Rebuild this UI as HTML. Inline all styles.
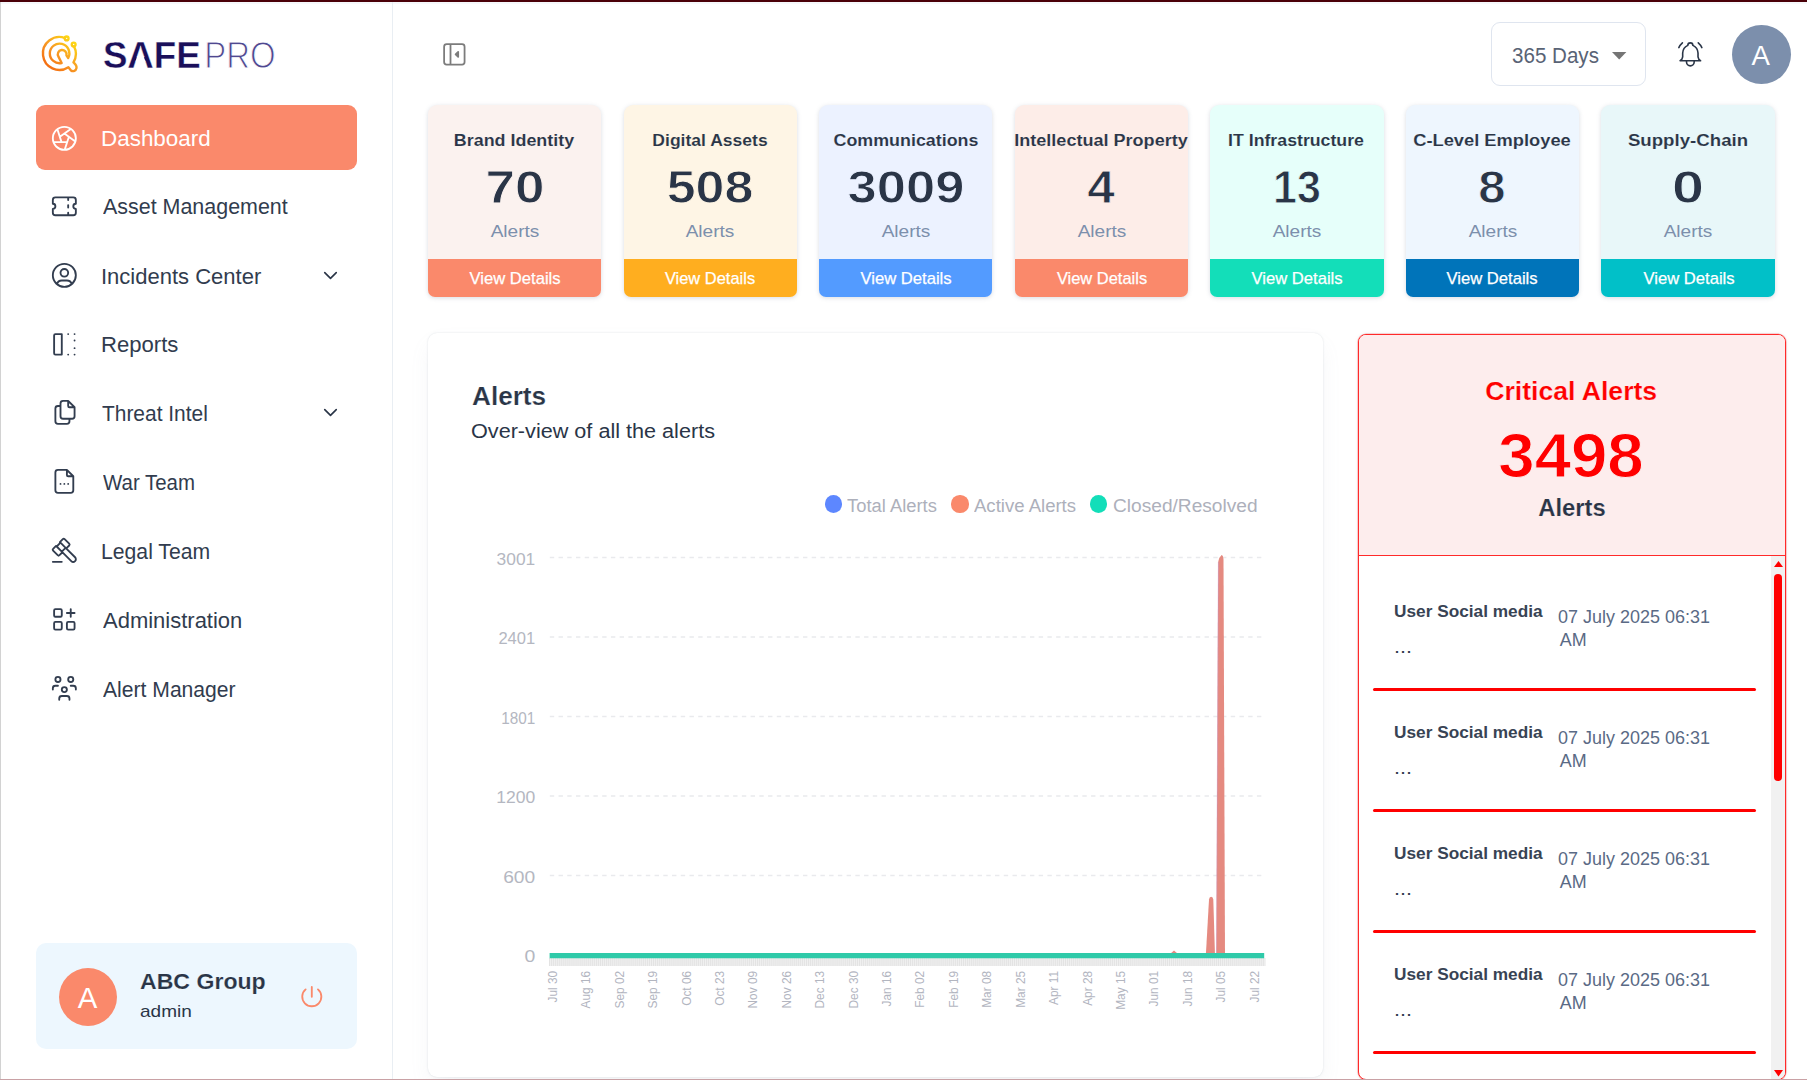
<!DOCTYPE html>
<html lang="en">
<head>
<meta charset="utf-8">
<title>SafePro Dashboard</title>
<style>
*{box-sizing:border-box;margin:0;padding:0}
html,body{width:1807px;height:1080px;overflow:hidden;background:#fff}
body{position:relative;font-family:"Liberation Sans",sans-serif;color:#2a3547}
.abs{position:absolute}
.t{position:absolute;white-space:nowrap;line-height:1}
svg{display:block;overflow:visible}
.ico{position:absolute;fill:none;stroke-linecap:round;stroke-linejoin:round}
#topbar{left:0;top:0;width:1807px;height:2px;background:#4a0008}
#topline{left:1px;top:2px;width:1806px;height:2px;background:#f6f8fb}
#leftline{left:0;top:2px;width:1px;height:1078px;background:#d2d2d2}
#botline{left:0;top:1079px;width:1807px;height:1px;background:#c9a1a5}
#sideborder{left:392px;top:2px;width:1px;height:1077px;background:#e9eef3}
#active{left:36px;top:105px;width:321px;height:65px;border-radius:9px;background:#fa896b}
#profile{left:36px;top:943px;width:321px;height:106px;border-radius:10px;background:#edf7fe}
.avatar{border-radius:50%}
.card{position:absolute;top:105px;width:173.3px;height:192px;border-radius:9px 9px 7px 7px;overflow:hidden;box-shadow:0 1px 4px rgba(120,130,150,.28)}
.card .ft{position:absolute;left:0;right:0;top:154.2px;height:37.8px}
#chartcard{left:428px;top:332.5px;width:895px;height:744.5px;border-radius:9px;background:#fff;box-shadow:0 0 2px rgba(145,158,171,.32),0 10px 22px -4px rgba(145,158,171,.12)}
#crit{left:1357.5px;top:333.5px;width:428.5px;height:746.5px;border:1px solid #ff2a2a;border-radius:8px;background:#fff;overflow:hidden;box-shadow:0 0 0 .6px rgba(255,40,40,.35),0 0 3px rgba(145,158,171,.25)}
#crithead{position:absolute;left:0;top:0;right:0;height:221.5px;background:#fdeded;border-bottom:1px solid #ff2a2a}
#track{position:absolute;left:412.5px;top:221.5px;width:14px;bottom:0;background:#f1f1f1}
#thumb{position:absolute;left:415.6px;top:239.5px;width:8.2px;height:206.5px;border-radius:4.1px;background:#ff0000}
</style>
</head>
<body>
<div class="abs" id="topbar"></div><div class="abs" id="topline"></div><div class="abs" id="leftline"></div><div class="abs" id="sideborder"></div>
<svg class="abs" style="left:0;top:0" width="400" height="100" viewBox="0 0 400 100">
<defs><linearGradient id="lg" gradientUnits="userSpaceOnUse" x1="46" y1="70" x2="76" y2="38"><stop offset="0" stop-color="#f4680f"/><stop offset=".45" stop-color="#f79a25"/><stop offset="1" stop-color="#ffe40f"/></linearGradient></defs>
<g fill="none" stroke="url(#lg)" stroke-width="2.5" stroke-linecap="round" stroke-linejoin="round" transform="translate(59.7 53.6) scale(.95) translate(-59.5 -54.4)">
<path d="M65.2 38.0A17.3 17.3 0 1 0 68.67 68.67L71.4 72.1C73.5 73.6 76.6 72.6 77.2 69.6C77.7 67 75.6 65.2 74 63.6A17.3 17.3 0 0 0 74.6 46.8"/>
<path d="M68.49 59.04A10.3 10.3 0 1 0 61.54 64.27L58.2 57.6A4.6 4.6 0 1 1 66.6 56.2L68.49 59.04"/>
<circle cx="66.8" cy="38.4" r="2.0"/><circle cx="74.2" cy="44.9" r="2.0"/>
</g>
<text id="lgsafe" x="102.9" y="67.6" font-family="Liberation Sans, sans-serif" font-weight="bold" font-size="37" fill="#1a0f5a" stroke="#fff" stroke-width=".35" textLength="97.8" lengthAdjust="spacingAndGlyphs">SAFE</text>
<path d="M137.1 56.4L143.6 56.4L145.5 61.2L135.5 61.2Z" fill="#fff"/>
<text id="lgpro" x="204.2" y="67.9" font-family="Liberation Sans, sans-serif" font-size="37.6" fill="#4f4890" stroke="#fff" stroke-width="1.1" textLength="71.4" lengthAdjust="spacingAndGlyphs">PRO</text>
</svg>
<div class="abs" id="active"></div>
<svg class="ico" viewBox="0 0 24 24" style="left:49.25px;top:122.65px;width:30.7px;height:30.7px;stroke:#ffffff;stroke-width:1.45"><path d="M12 12m-9 0a9 9 0 1 0 18 0a9 9 0 1 0 -18 0M3.6 15h10.55M6.551 4.938l3.26 10.034M17.032 4.636l-8.535 6.201M20.559 14.51l-8.535 -6.201M12.257 20.916l3.261 -10.034"/></svg>
<div class="t" id="nav0" style="top:128.32px;font-size:21.6px;color:#ffffff;left:101.14px;transform-origin:0 50%;transform:scaleX(1.0388);">Dashboard</div>
<svg class="ico" viewBox="0 0 24 24" style="left:49.25px;top:190.75px;width:30.7px;height:30.7px;stroke:#323d4f;stroke-width:1.45"><path d="M15 5l0 2M15 11l0 2M15 17l0 2M5 5h14a2 2 0 0 1 2 2v3a2 2 0 0 0 0 4v3a2 2 0 0 1 -2 2h-14a2 2 0 0 1 -2 -2v-3a2 2 0 0 0 0 -4v-3a2 2 0 0 1 2 -2"/></svg>
<div class="t" id="nav1" style="top:196.42px;font-size:21.6px;color:#313c4e;left:103.19px;transform-origin:0 50%;transform:scaleX(0.9930);">Asset Management</div>
<svg class="ico" viewBox="0 0 24 24" style="left:49.25px;top:260.25px;width:30.7px;height:30.7px;stroke:#323d4f;stroke-width:1.45"><path d="M12 12m-9 0a9 9 0 1 0 18 0a9 9 0 1 0 -18 0M12 10m-3 0a3 3 0 1 0 6 0a3 3 0 1 0 -6 0M6.168 18.849a4 4 0 0 1 3.832 -2.849h4a4 4 0 0 1 3.834 2.855"/></svg>
<div class="t" id="nav2" style="top:265.92px;font-size:21.6px;color:#313c4e;left:101.17px;transform-origin:0 50%;transform:scaleX(1.0192);">Incidents Center</div>
<svg class="ico" viewBox="0 0 24 24" style="left:49.25px;top:328.65px;width:30.7px;height:30.7px;stroke:#323d4f;stroke-width:1.45"><path d="M10.002 20.003v-16h-5a1 1 0 0 0 -1 1v14a1 1 0 0 0 1 1h5zM15.002 20.003h-.01M20.003 20.003h-.011M20.003 15.002h-.011M20.003 9.002h-.011M20.003 4.002h-.011M15.002 4.002h-.01"/></svg>
<div class="t" id="nav3" style="top:334.32px;font-size:21.6px;color:#313c4e;left:101.16px;transform-origin:0 50%;transform:scaleX(1.0230);">Reports</div>
<svg class="ico" viewBox="0 0 24 24" style="left:49.25px;top:397.05px;width:30.7px;height:30.7px;stroke:#323d4f;stroke-width:1.45"><path d="M15 3v4a1 1 0 0 0 1 1h4M18 17h-7a2 2 0 0 1 -2 -2v-10a2 2 0 0 1 2 -2h4l5 5v7a2 2 0 0 1 -2 2zM16 17v2a2 2 0 0 1 -2 2h-7a2 2 0 0 1 -2 -2v-10a2 2 0 0 1 2 -2h2"/></svg>
<div class="t" id="nav4" style="top:402.72px;font-size:21.6px;color:#313c4e;left:102.21px;transform-origin:0 50%;transform:scaleX(0.9685);">Threat Intel</div>
<svg class="ico" viewBox="0 0 24 24" style="left:49.25px;top:466.45px;width:30.7px;height:30.7px;stroke:#323d4f;stroke-width:1.45"><path d="M14 3v4a1 1 0 0 0 1 1h4M17 21h-10a2 2 0 0 1 -2 -2v-14a2 2 0 0 1 2 -2h7l5 5v11a2 2 0 0 1 -2 2zM9 14v.01M12 14v.01M15 14v.01"/></svg>
<div class="t" id="nav5" style="top:472.12px;font-size:21.6px;color:#313c4e;left:103.16px;transform-origin:0 50%;transform:scaleX(0.9464);">War Team</div>
<svg class="ico" viewBox="0 0 24 24" style="left:49.25px;top:535.25px;width:30.7px;height:30.7px;stroke:#323d4f;stroke-width:1.45"><path d="M13 10l7.383 7.418c.823 .82 .823 2.148 0 2.967a2.11 2.11 0 0 1 -2.976 0l-7.407 -7.385M6 9l4 4M13 10l-4 -4M3 21h7M6.793 15.793l-3.586 -3.586a1 1 0 0 1 0 -1.414l2.293 -2.293l.5 .5l3 -3l-.5 -.5l2.293 -2.293a1 1 0 0 1 1.414 0l3.586 3.586a1 1 0 0 1 0 1.414l-2.293 2.293l-.5 -.5l-3 3l.5 .5l-2.293 2.293a1 1 0 0 1 -1.414 0z"/></svg>
<div class="t" id="nav6" style="top:540.92px;font-size:21.6px;color:#313c4e;left:101.22px;transform-origin:0 50%;transform:scaleX(0.9817);">Legal Team</div>
<svg class="ico" viewBox="0 0 24 24" style="left:49.25px;top:604.05px;width:30.7px;height:30.7px;stroke:#323d4f;stroke-width:1.45"><path d="M4 4m0 1a1 1 0 0 1 1 -1h4a1 1 0 0 1 1 1v4a1 1 0 0 1 -1 1h-4a1 1 0 0 1 -1 -1zM4 14m0 1a1 1 0 0 1 1 -1h4a1 1 0 0 1 1 1v4a1 1 0 0 1 -1 1h-4a1 1 0 0 1 -1 -1zM14 14m0 1a1 1 0 0 1 1 -1h4a1 1 0 0 1 1 1v4a1 1 0 0 1 -1 1h-4a1 1 0 0 1 -1 -1zM14 7l6 0M17 4l0 6"/></svg>
<div class="t" id="nav7" style="top:609.72px;font-size:21.6px;color:#313c4e;left:103.20px;transform-origin:0 50%;transform:scaleX(1.0182);">Administration</div>
<svg class="ico" viewBox="0 0 24 24" style="left:49.25px;top:673.45px;width:30.7px;height:30.7px;stroke:#323d4f;stroke-width:1.45"><path d="M10 13a2 2 0 1 0 4 0a2 2 0 0 0 -4 0M8 21v-1a2 2 0 0 1 2 -2h4a2 2 0 0 1 2 2v1M15 5a2 2 0 1 0 4 0a2 2 0 0 0 -4 0M17 10h2a2 2 0 0 1 2 2v1M5 5a2 2 0 1 0 4 0a2 2 0 0 0 -4 0M3 13v-1a2 2 0 0 1 2 -2h2"/></svg>
<div class="t" id="nav8" style="top:679.12px;font-size:21.6px;color:#313c4e;left:103.18px;transform-origin:0 50%;transform:scaleX(0.9779);">Alert Manager</div>
<svg class="ico" viewBox="0 0 24 24" style="left:319.30px;top:263.70px;width:23px;height:23px;stroke:#2a3547;stroke-width:1.7"><path d="M6 9l6 6l6 -6"/></svg>
<svg class="ico" viewBox="0 0 24 24" style="left:319.30px;top:400.50px;width:23px;height:23px;stroke:#2a3547;stroke-width:1.7"><path d="M6 9l6 6l6 -6"/></svg>
<div class="abs" id="profile"></div>
<div class="abs avatar" style="left:58.5px;top:967.7px;width:58.4px;height:58.4px;background:#fa896b"></div>
<div class="t" id="pa" style="top:983.31px;font-size:29.4px;color:#fff;left:87.60px;transform:translateX(-50%) ;">A</div>
<div class="t" id="pname" style="top:970.10px;font-size:22.8px;color:#2a3547;font-weight:bold;left:139.78px;transform-origin:0 50%;transform:scaleX(1.0130);-webkit-text-stroke:.15px #edf7fe;">ABC Group</div>
<div class="t" id="prole" style="top:1003.55px;font-size:16.6px;color:#2a3547;left:140.13px;transform-origin:0 50%;transform:scaleX(1.1455);">admin</div>
<svg class="ico" viewBox="0 0 24 24" style="left:296.70px;top:982.10px;width:29.6px;height:29.6px;stroke:#fa896b;stroke-width:1.5"><path d="M7 6a7.75 7.75 0 1 0 10 0M12 4l0 8"/></svg>
<svg class="ico" viewBox="0 0 24 24" style="left:438.85px;top:38.95px;width:30.7px;height:30.7px;stroke:#7c7c7c;stroke-width:1.4"><path d="M4 4m0 2a2 2 0 0 1 2 -2h12a2 2 0 0 1 2 2v12a2 2 0 0 1 -2 2h-12a2 2 0 0 1 -2 -2zM9 4v16"/><path d="M15 10l-2 2l2 2z" fill="#7c7c7c"/></svg>
<div class="abs" style="left:1491px;top:22px;width:155px;height:64px;border:1px solid #dfe5ef;border-radius:9px;background:#fff"></div>
<div class="t" id="days" style="top:45.58px;font-size:21.4px;color:#596375;left:1512.02px;transform-origin:0 50%;transform:scaleX(0.9622);">365 Days</div>
<svg class="abs" style="left:1612px;top:51.6px" width="14.4" height="7.4" viewBox="0 0 14.4 7.4"><path d="M0 0h14.4l-7.2 7.4z" fill="#757575"/></svg>
<svg class="ico" viewBox="0 0 24 24" style="left:1675.35px;top:39.35px;width:30.7px;height:30.7px;stroke:#2a3547;stroke-width:1.25"><path d="M10 5a2 2 0 0 1 4 0a7 7 0 0 1 4 6v3a4 4 0 0 0 2 3h-16a4 4 0 0 0 2 -3v-3a7 7 0 0 1 4 -6M9 17v1a3 3 0 0 0 6 0v-1M21 6.727a11.05 11.05 0 0 0 -2.794 -3.727M3 6.727a11.05 11.05 0 0 1 2.792 -3.727"/></svg>
<div class="abs avatar" style="left:1732px;top:24.9px;width:58.8px;height:58.8px;background:#7c8fac"></div>
<div class="t" id="ha" style="top:42.24px;font-size:27.6px;color:#fff;left:1760.80px;transform:translateX(-50%) ;">A</div>
<div class="card" style="left:428.00px;background:#fbf2ef"><div class="ft" style="background:#fa896b"></div></div>
<div class="t" id="ct0" style="top:131.61px;font-size:17.0px;color:#2a3547;font-weight:bold;left:514.27px;transform:translateX(-50%) scaleX(1.0526);-webkit-text-stroke:.1px #fbf2ef;">Brand Identity</div>
<div class="t" id="cn0" style="top:163.66px;font-size:46.0px;color:#2a3547;font-weight:bold;left:514.81px;transform:translateX(-50%) scaleX(1.1532);-webkit-text-stroke:.9px #fbf2ef;">70</div>
<div class="t" id="ca0" style="top:223.36px;font-size:17.3px;color:#7c8fac;left:515.36px;transform:translateX(-50%) scaleX(1.1023);">Alerts</div>
<div class="t" id="cv0" style="top:271.25px;font-size:16.6px;color:#fff;left:514.79px;transform:translateX(-50%) scaleX(1.0022);-webkit-text-stroke:.25px #fff;">View Details</div>
<div class="card" style="left:623.56px;background:#fef5e5"><div class="ft" style="background:#ffae1f"></div></div>
<div class="t" id="ct1" style="top:131.61px;font-size:17.0px;color:#2a3547;font-weight:bold;left:709.90px;transform:translateX(-50%) scaleX(1.0315);-webkit-text-stroke:.1px #fef5e5;">Digital Assets</div>
<div class="t" id="cn1" style="top:163.66px;font-size:46.0px;color:#2a3547;font-weight:bold;left:709.87px;transform:translateX(-50%) scaleX(1.1288);-webkit-text-stroke:.9px #fef5e5;">508</div>
<div class="t" id="ca1" style="top:223.36px;font-size:17.3px;color:#7c8fac;left:710.43px;transform:translateX(-50%) scaleX(1.1023);">Alerts</div>
<div class="t" id="cv1" style="top:271.25px;font-size:16.6px;color:#fff;left:710.41px;transform:translateX(-50%) scaleX(0.9913);-webkit-text-stroke:.25px #fff;">View Details</div>
<div class="card" style="left:819.12px;background:#ecf2ff"><div class="ft" style="background:#539bff"></div></div>
<div class="t" id="ct2" style="top:131.61px;font-size:17.0px;color:#2a3547;font-weight:bold;left:906.05px;transform:translateX(-50%) scaleX(1.0511);-webkit-text-stroke:.1px #ecf2ff;">Communications</div>
<div class="t" id="cn2" style="top:163.66px;font-size:46.0px;color:#2a3547;font-weight:bold;left:906.07px;transform:translateX(-50%) scaleX(1.1414);-webkit-text-stroke:.9px #ecf2ff;">3009</div>
<div class="t" id="ca2" style="top:223.36px;font-size:17.3px;color:#7c8fac;left:905.51px;transform:translateX(-50%) scaleX(1.1023);">Alerts</div>
<div class="t" id="cv2" style="top:271.25px;font-size:16.6px;color:#fff;left:906.04px;transform:translateX(-50%) scaleX(1.0022);-webkit-text-stroke:.25px #fff;">View Details</div>
<div class="card" style="left:1014.68px;background:#fdede8"><div class="ft" style="background:#fa896b"></div></div>
<div class="t" id="ct3" style="top:131.61px;font-size:17.0px;color:#2a3547;font-weight:bold;left:1101.15px;transform:translateX(-50%) scaleX(1.0613);-webkit-text-stroke:.1px #fdede8;">Intellectual Property</div>
<div class="t" id="cn3" style="top:163.66px;font-size:46.0px;color:#2a3547;font-weight:bold;left:1101.14px;transform:translateX(-50%) scaleX(1.0800);-webkit-text-stroke:.9px #fdede8;">4</div>
<div class="t" id="ca3" style="top:223.36px;font-size:17.3px;color:#7c8fac;left:1101.69px;transform:translateX(-50%) scaleX(1.1023);">Alerts</div>
<div class="t" id="cv3" style="top:271.25px;font-size:16.6px;color:#fff;left:1101.66px;transform:translateX(-50%) scaleX(0.9913);-webkit-text-stroke:.25px #fff;">View Details</div>
<div class="card" style="left:1210.24px;background:#e6fffa"><div class="ft" style="background:#13deb9"></div></div>
<div class="t" id="ct4" style="top:131.61px;font-size:17.0px;color:#2a3547;font-weight:bold;left:1296.24px;transform:translateX(-50%) scaleX(1.0426);-webkit-text-stroke:.1px #e6fffa;">IT Infrastructure</div>
<div class="t" id="cn4" style="top:163.66px;font-size:46.0px;color:#2a3547;font-weight:bold;left:1296.77px;transform:translateX(-50%) scaleX(0.9348);-webkit-text-stroke:.9px #e6fffa;">13</div>
<div class="t" id="ca4" style="top:223.36px;font-size:17.3px;color:#7c8fac;left:1296.75px;transform:translateX(-50%) scaleX(1.1023);">Alerts</div>
<div class="t" id="cv4" style="top:271.25px;font-size:16.6px;color:#fff;left:1297.27px;transform:translateX(-50%) scaleX(1.0022);-webkit-text-stroke:.25px #fff;">View Details</div>
<div class="card" style="left:1405.80px;background:#eef6fe"><div class="ft" style="background:#0074ba"></div></div>
<div class="t" id="ct5" style="top:131.61px;font-size:17.0px;color:#2a3547;font-weight:bold;left:1492.38px;transform:translateX(-50%) scaleX(1.0759);-webkit-text-stroke:.1px #eef6fe;">C-Level Employee</div>
<div class="t" id="cn5" style="top:163.66px;font-size:46.0px;color:#2a3547;font-weight:bold;left:1492.38px;transform:translateX(-50%) scaleX(1.0652);-webkit-text-stroke:.9px #eef6fe;">8</div>
<div class="t" id="ca5" style="top:223.36px;font-size:17.3px;color:#7c8fac;left:1492.93px;transform:translateX(-50%) scaleX(1.1023);">Alerts</div>
<div class="t" id="cv5" style="top:271.25px;font-size:16.6px;color:#fff;left:1492.39px;transform:translateX(-50%) scaleX(1.0022);-webkit-text-stroke:.25px #fff;">View Details</div>
<div class="card" style="left:1601.36px;background:#e8f7f9"><div class="ft" style="background:#01c0c8"></div></div>
<div class="t" id="ct6" style="top:131.61px;font-size:17.0px;color:#2a3547;font-weight:bold;left:1688.01px;transform:translateX(-50%) scaleX(1.0972);-webkit-text-stroke:.1px #e8f7f9;">Supply-Chain</div>
<div class="t" id="cn6" style="top:163.66px;font-size:46.0px;color:#2a3547;font-weight:bold;left:1688.01px;transform:translateX(-50%) scaleX(1.2500);-webkit-text-stroke:.9px #e8f7f9;">0</div>
<div class="t" id="ca6" style="top:223.36px;font-size:17.3px;color:#7c8fac;left:1688.01px;transform:translateX(-50%) scaleX(1.1023);">Alerts</div>
<div class="t" id="cv6" style="top:271.25px;font-size:16.6px;color:#fff;left:1688.51px;transform:translateX(-50%) scaleX(1.0022);-webkit-text-stroke:.25px #fff;">View Details</div>
<div class="abs" id="chartcard"></div>
<div class="t" id="ch1" style="top:384.44px;font-size:25.7px;color:#2a3547;font-weight:bold;left:472.00px;transform-origin:0 50%;transform:scaleX(1.0181);-webkit-text-stroke:.2px #fff;">Alerts</div>
<div class="t" id="ch2" style="top:421.17px;font-size:20.0px;color:#2a3547;left:471.32px;transform-origin:0 50%;transform:scaleX(1.0813);">Over-view of all the alerts</div>
<div class="abs" style="left:825.2px;top:495.4px;width:17.2px;height:17.2px;border-radius:50%;background:#5d87ff"></div>
<div class="t" id="lg0" style="top:497.50px;font-size:17.6px;color:#adb0bb;left:847.40px;transform-origin:0 50%;transform:scaleX(1.0442);">Total Alerts</div>
<div class="abs" style="left:951.4px;top:495.4px;width:17.2px;height:17.2px;border-radius:50%;background:#fa896b"></div>
<div class="t" id="lg1" style="top:497.50px;font-size:17.6px;color:#adb0bb;left:973.78px;transform-origin:0 50%;transform:scaleX(1.0542);">Active Alerts</div>
<div class="abs" style="left:1089.6px;top:495.4px;width:17.2px;height:17.2px;border-radius:50%;background:#13deb9"></div>
<div class="t" id="lg2" style="top:497.50px;font-size:17.6px;color:#adb0bb;left:1112.58px;transform-origin:0 50%;transform:scaleX(1.0871);">Closed/Resolved</div>
<svg class="abs" style="left:0;top:0" width="1807" height="1080" viewBox="0 0 1807 1080" font-family="Liberation Sans, sans-serif"><line x1="549.8" y1="557.5" x2="1263.5" y2="557.5" stroke="#e9eaed" stroke-width="1.4" stroke-dasharray="4.4 4.33"/><line x1="549.8" y1="637.0" x2="1263.5" y2="637.0" stroke="#e9eaed" stroke-width="1.4" stroke-dasharray="4.4 4.33"/><line x1="549.8" y1="716.5" x2="1263.5" y2="716.5" stroke="#e9eaed" stroke-width="1.4" stroke-dasharray="4.4 4.33"/><line x1="549.8" y1="796.0" x2="1263.5" y2="796.0" stroke="#e9eaed" stroke-width="1.4" stroke-dasharray="4.4 4.33"/><line x1="549.8" y1="875.5" x2="1263.5" y2="875.5" stroke="#e9eaed" stroke-width="1.4" stroke-dasharray="4.4 4.33"/><text x="496.6" y="564.8" font-size="17.4" fill="#b4b7c1" textLength="38.6" lengthAdjust="spacingAndGlyphs">3001</text><text x="498.4" y="644.3" font-size="17.4" fill="#b4b7c1" textLength="36.8" lengthAdjust="spacingAndGlyphs">2401</text><text x="501.2" y="723.8" font-size="17.4" fill="#b4b7c1" textLength="34.0" lengthAdjust="spacingAndGlyphs">1801</text><text x="496.2" y="803.3" font-size="17.4" fill="#b4b7c1" textLength="39.0" lengthAdjust="spacingAndGlyphs">1200</text><text x="503.2" y="882.8" font-size="17.4" fill="#b4b7c1" textLength="32.0" lengthAdjust="spacingAndGlyphs">600</text><text x="524.4" y="962.3" font-size="17.4" fill="#b4b7c1" textLength="10.8" lengthAdjust="spacingAndGlyphs">0</text><defs><pattern id="tk" x="549" y="958" width="1.962" height="8" patternUnits="userSpaceOnUse"><rect width="1.962" height="8" fill="#f0f0f0"/><rect width=".95" height="8" fill="#e3e3e3"/></pattern></defs><rect x="549" y="958" width="716.5" height="8" fill="url(#tk)"/><path d="M1205.8 956L1209.0 899.5Q1209.3 897 1211.1 896.8Q1213.0 897 1213.3 899.5L1215.0 956Z" fill="#e58a80"/><path d="M1216.3 956L1218.2 562Q1218.6 557.5 1221.6 555Q1223.4 555.5 1223.5 560L1225.0 956Z" fill="#e58a80"/><path d="M1216.5 956L1218.4 562" stroke="#c58fc0" stroke-opacity=".45" stroke-width="1" fill="none"/><path d="M1170 954L1174 950.5L1178 954Z" fill="#e58a80"/><line x1="549.6" y1="955.7" x2="1264.2" y2="955.7" stroke="#2fcaa9" stroke-width="5.2"/><text transform="translate(556.9 970.8) rotate(-90)" text-anchor="end" font-size="11.9" fill="#b2b5bf">Jul 30</text><text transform="translate(590.3 970.8) rotate(-90)" text-anchor="end" font-size="11.9" fill="#b2b5bf">Aug 16</text><text transform="translate(623.7 970.8) rotate(-90)" text-anchor="end" font-size="11.9" fill="#b2b5bf">Sep 02</text><text transform="translate(657.1 970.8) rotate(-90)" text-anchor="end" font-size="11.9" fill="#b2b5bf">Sep 19</text><text transform="translate(690.5 970.8) rotate(-90)" text-anchor="end" font-size="11.9" fill="#b2b5bf">Oct 06</text><text transform="translate(723.9 970.8) rotate(-90)" text-anchor="end" font-size="11.9" fill="#b2b5bf">Oct 23</text><text transform="translate(757.4 970.8) rotate(-90)" text-anchor="end" font-size="11.9" fill="#b2b5bf">Nov 09</text><text transform="translate(790.8 970.8) rotate(-90)" text-anchor="end" font-size="11.9" fill="#b2b5bf">Nov 26</text><text transform="translate(824.2 970.8) rotate(-90)" text-anchor="end" font-size="11.9" fill="#b2b5bf">Dec 13</text><text transform="translate(857.6 970.8) rotate(-90)" text-anchor="end" font-size="11.9" fill="#b2b5bf">Dec 30</text><text transform="translate(891.0 970.8) rotate(-90)" text-anchor="end" font-size="11.9" fill="#b2b5bf">Jan 16</text><text transform="translate(924.4 970.8) rotate(-90)" text-anchor="end" font-size="11.9" fill="#b2b5bf">Feb 02</text><text transform="translate(957.8 970.8) rotate(-90)" text-anchor="end" font-size="11.9" fill="#b2b5bf">Feb 19</text><text transform="translate(991.2 970.8) rotate(-90)" text-anchor="end" font-size="11.9" fill="#b2b5bf">Mar 08</text><text transform="translate(1024.6 970.8) rotate(-90)" text-anchor="end" font-size="11.9" fill="#b2b5bf">Mar 25</text><text transform="translate(1058.0 970.8) rotate(-90)" text-anchor="end" font-size="11.9" fill="#b2b5bf">Apr 11</text><text transform="translate(1091.5 970.8) rotate(-90)" text-anchor="end" font-size="11.9" fill="#b2b5bf">Apr 28</text><text transform="translate(1124.9 970.8) rotate(-90)" text-anchor="end" font-size="11.9" fill="#b2b5bf">May 15</text><text transform="translate(1158.3 970.8) rotate(-90)" text-anchor="end" font-size="11.9" fill="#b2b5bf">Jun 01</text><text transform="translate(1191.7 970.8) rotate(-90)" text-anchor="end" font-size="11.9" fill="#b2b5bf">Jun 18</text><text transform="translate(1225.1 970.8) rotate(-90)" text-anchor="end" font-size="11.9" fill="#b2b5bf">Jul 05</text><text transform="translate(1258.5 970.8) rotate(-90)" text-anchor="end" font-size="11.9" fill="#b2b5bf">Jul 22</text></svg>
<div class="abs" id="crit"><div id="crithead"></div><div id="track"></div><div id="thumb"></div><svg class="abs" style="left:415.5px;top:226.6px" width="9" height="6" viewBox="0 0 9 6"><path d="M0 6h9l-4.5-6z" fill="#ff0000"/></svg><svg class="abs" style="left:415.5px;top:735.5px" width="9" height="6.5" viewBox="0 0 9 6.5"><path d="M0 0h9l-4.5 6.5z" fill="#ff0000"/></svg></div>
<div class="t" id="cr1" style="top:377.78px;font-size:26.6px;color:#ff0000;font-weight:bold;left:1571.19px;transform:translateX(-50%) ;-webkit-text-stroke:.2px #fdeded;">Critical Alerts</div>
<div class="t" id="cr2" style="top:423.51px;font-size:62.6px;color:#ff0000;font-weight:bold;left:1571.11px;transform:translateX(-50%) scaleX(1.0444);-webkit-text-stroke:1.0px #fdeded;">3498</div>
<div class="t" id="cr3" style="top:496.38px;font-size:24.0px;color:#2a3547;font-weight:bold;left:1571.89px;transform:translateX(-50%) scaleX(0.9910);-webkit-text-stroke:.15px #fdeded;">Alerts</div>
<div class="t" id="it0" style="top:604.08px;font-size:16.8px;color:#384354;font-weight:bold;left:1393.97px;transform-origin:0 50%;transform:scaleX(1.0278);">User Social media</div>
<div class="t" id="id0" style="top:639.39px;font-size:17.5px;color:#323e50;left:1394.43px;transform-origin:0 50%;transform:scaleX(1.2308);">...</div>
<div class="t" id="dt0" style="top:608.75px;font-size:17.9px;color:#5a6a85;left:1558.38px;transform-origin:0 50%;transform:scaleX(1.0053);">07 July 2025 06:31</div>
<div class="t" id="am0" style="top:632.15px;font-size:17.9px;color:#5a6a85;left:1559.79px;">AM</div>
<div class="abs" style="left:1373.4px;top:688.4px;width:382.2px;height:3px;border-radius:1.5px;background:#ff0000"></div>
<div class="t" id="it1" style="top:725.08px;font-size:16.8px;color:#384354;font-weight:bold;left:1393.97px;transform-origin:0 50%;transform:scaleX(1.0278);">User Social media</div>
<div class="t" id="id1" style="top:760.39px;font-size:17.5px;color:#323e50;left:1394.43px;transform-origin:0 50%;transform:scaleX(1.2308);">...</div>
<div class="t" id="dt1" style="top:729.75px;font-size:17.9px;color:#5a6a85;left:1558.38px;transform-origin:0 50%;transform:scaleX(1.0053);">07 July 2025 06:31</div>
<div class="t" id="am1" style="top:753.15px;font-size:17.9px;color:#5a6a85;left:1559.79px;">AM</div>
<div class="abs" style="left:1373.4px;top:809.4px;width:382.2px;height:3px;border-radius:1.5px;background:#ff0000"></div>
<div class="t" id="it2" style="top:846.08px;font-size:16.8px;color:#384354;font-weight:bold;left:1393.97px;transform-origin:0 50%;transform:scaleX(1.0278);">User Social media</div>
<div class="t" id="id2" style="top:881.39px;font-size:17.5px;color:#323e50;left:1394.43px;transform-origin:0 50%;transform:scaleX(1.2308);">...</div>
<div class="t" id="dt2" style="top:850.75px;font-size:17.9px;color:#5a6a85;left:1558.38px;transform-origin:0 50%;transform:scaleX(1.0053);">07 July 2025 06:31</div>
<div class="t" id="am2" style="top:874.15px;font-size:17.9px;color:#5a6a85;left:1559.79px;">AM</div>
<div class="abs" style="left:1373.4px;top:930.4px;width:382.2px;height:3px;border-radius:1.5px;background:#ff0000"></div>
<div class="t" id="it3" style="top:967.08px;font-size:16.8px;color:#384354;font-weight:bold;left:1393.97px;transform-origin:0 50%;transform:scaleX(1.0278);">User Social media</div>
<div class="t" id="id3" style="top:1002.39px;font-size:17.5px;color:#323e50;left:1394.43px;transform-origin:0 50%;transform:scaleX(1.2308);">...</div>
<div class="t" id="dt3" style="top:971.75px;font-size:17.9px;color:#5a6a85;left:1558.38px;transform-origin:0 50%;transform:scaleX(1.0053);">07 July 2025 06:31</div>
<div class="t" id="am3" style="top:995.15px;font-size:17.9px;color:#5a6a85;left:1559.79px;">AM</div>
<div class="abs" style="left:1373.4px;top:1051.4px;width:382.2px;height:3px;border-radius:1.5px;background:#ff0000"></div>
<div class="abs" id="botline"></div>
</body>
</html>
